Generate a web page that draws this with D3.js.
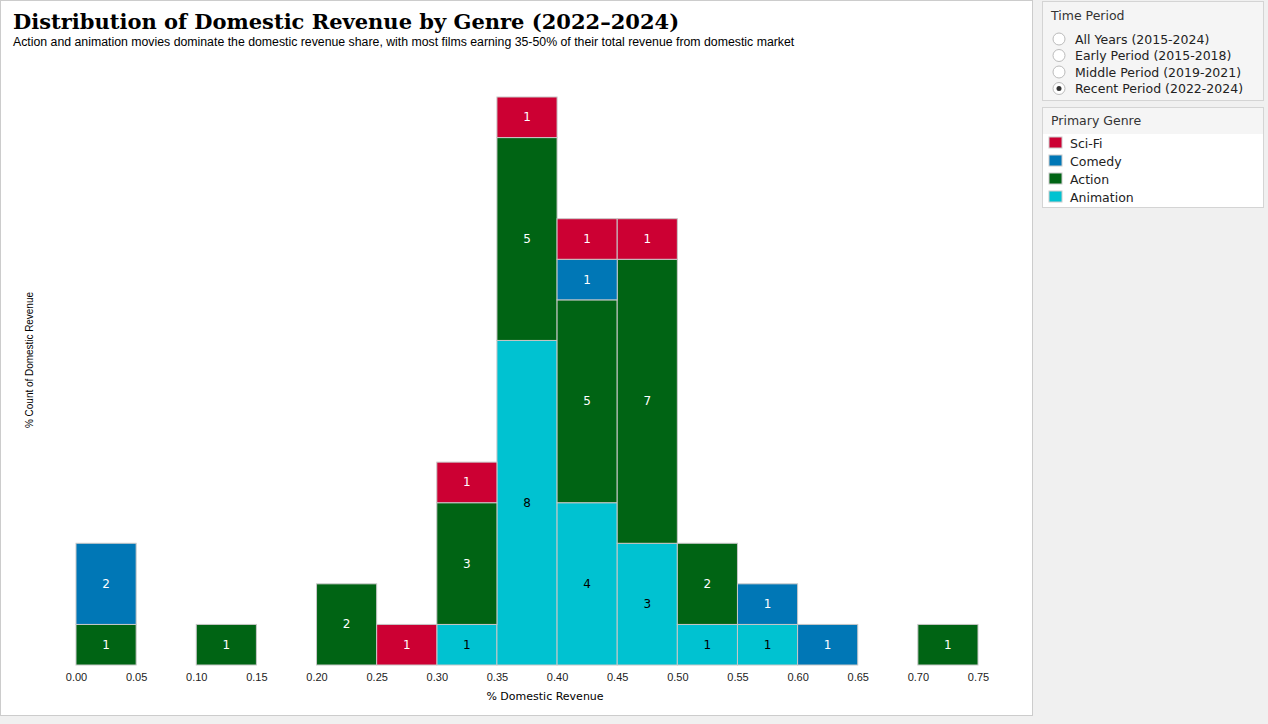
<!DOCTYPE html>
<html><head><meta charset="utf-8">
<script src="https://cdn.jsdelivr.net/npm/d3@7"></script>
<style>body{margin:0;background:#f0f0f0;font-family:Verdana,"DejaVu Sans",sans-serif}</style>
</head><body><div id="c"></div>
<script>
const W = 1268, H = 724
const genres = ['Animation', 'Action', 'Comedy', 'Sci-Fi']
const legendOrder = ['Sci-Fi', 'Comedy', 'Action', 'Animation']
const colors = { 'Sci-Fi': '#cc0033', 'Comedy': '#0077b6', 'Action': '#006414', 'Animation': '#00c2d1' }
const binStarts = [0.00, 0.10, 0.20, 0.25, 0.30, 0.35, 0.40, 0.45, 0.50, 0.55, 0.60, 0.70]
const animation = [0, 0, 0, 0, 1, 8, 4, 3, 1, 1, 0, 0]
const action    = [1, 1, 2, 0, 3, 5, 5, 7, 2, 0, 0, 1]
const comedy    = [2, 0, 0, 0, 0, 0, 1, 0, 0, 1, 1, 0]
const scifi     = [0, 0, 0, 1, 1, 1, 1, 1, 0, 0, 0, 0]
const ticks = d3.range(0, 16).map(i => i * 0.05)
const periods = ['All Years (2015-2024)', 'Early Period (2015-2018)', 'Middle Period (2019-2021)', 'Recent Period (2022-2024)']

const table = binStarts.map((b, i) => ({ bin: b, 'Animation': animation[i], 'Action': action[i], 'Comedy': comedy[i], 'Sci-Fi': scifi[i] }))
const stack = d3.stack().keys(genres)(table)

const svg = d3.select('#c').append('svg').attr('width', W).attr('height', H)
svg.append('rect').attr('x', 0.5).attr('y', 0.5).attr('width', 1032).attr('height', 715).attr('fill', '#fff').attr('stroke', '#ccc')

const x = d3.scaleLinear().domain([0, 0.75]).range([76, 978])
const y = d3.scaleLinear().domain([0, 14]).range([665, 97])

svg.append('text').attr('x', 13).attr('y', 29).attr('font-family', 'DejaVu Serif, serif').attr('font-weight', 'bold').attr('font-size', 21).text('Distribution of Domestic Revenue by Genre (2022\u20132024)')
svg.append('text').attr('x', 13).attr('y', 46).attr('font-size', 12.3).attr('font-family', 'Arial, Liberation Sans, sans-serif').text('Action and animation movies dominate the domestic revenue share, with most films earning 35-50% of their total revenue from domestic market')

const g = svg.append('g')
stack.forEach(layer => {
  layer.forEach(d => {
    if (d[1] - d[0] <= 0) return
    const x0 = x(d.data.bin), x1 = x(d.data.bin + 0.05)
    g.append('rect').attr('x', x0).attr('y', y(d[1])).attr('width', x1 - x0).attr('height', y(d[0]) - y(d[1]))
      .attr('fill', colors[layer.key]).attr('stroke', '#c8c8c8').attr('stroke-width', 1)
    g.append('text').attr('x', (x0 + x1) / 2).attr('y', (y(d[0]) + y(d[1])) / 2 + 4).attr('text-anchor', 'middle')
      .attr('font-size', 12).attr('fill', layer.key === 'Animation' ? '#000' : '#fff').text(d[1] - d[0])
  })
})

const ax = svg.append('g').attr('transform', 'translate(0,665)')
  .call(d3.axisBottom(x).tickValues(ticks).tickFormat(d3.format('.2f')).tickSize(0).tickPadding(8))
ax.select('.domain').remove()
ax.selectAll('text').attr('font-size', 11).attr('fill', '#222')
svg.append('text').attr('x', 545).attr('y', 700).attr('text-anchor', 'middle').attr('font-size', 11).text('% Domestic  Revenue')
svg.append('text').attr('transform', 'translate(33,360) rotate(-90)').attr('text-anchor', 'middle').attr('font-size', 10)
  .attr('font-family', 'Arial, Liberation Sans, sans-serif').attr('textLength', 136).text('% Count of Domestic Revenue')

// time period box
const tp = svg.append('g').attr('transform', 'translate(1042,1)')
tp.append('rect').attr('x', 0.5).attr('y', 0.5).attr('width', 221).attr('height', 99).attr('fill', '#f5f5f5').attr('stroke', '#d4d4d4')
tp.append('text').attr('x', 9).attr('y', 19).attr('font-size', 12.5).attr('fill', '#333').text('Time Period')
periods.forEach((p, i) => {
  const cy = 38 + i * 16.5
  tp.append('circle').attr('cx', 17).attr('cy', cy).attr('r', 6).attr('fill', '#fff').attr('stroke', '#bbb')
  if (i === 3) tp.append('circle').attr('cx', 17).attr('cy', cy).attr('r', 2.5).attr('fill', '#333')
  tp.append('text').attr('x', 33).attr('y', cy + 4.5).attr('font-size', 12.5).attr('fill', '#222').text(p)
})

// genre legend
const lg = svg.append('g').attr('transform', 'translate(1042,107)')
lg.append('rect').attr('x', 0.5).attr('y', 0.5).attr('width', 221).attr('height', 100).attr('fill', '#fff').attr('stroke', '#d4d4d4')
lg.append('rect').attr('x', 1).attr('y', 1).attr('width', 220).attr('height', 26).attr('fill', '#f5f5f5')
lg.append('text').attr('x', 9).attr('y', 18).attr('font-size', 12.5).attr('fill', '#333').text('Primary Genre')
legendOrder.forEach((k, i) => {
  const cy = 36 + i * 18
  lg.append('rect').attr('x', 7).attr('y', cy - 6).attr('width', 13).attr('height', 11).attr('fill', colors[k]).attr('stroke', '#ccc')
  lg.append('text').attr('x', 28).attr('y', cy + 4.5).attr('font-size', 12.5).attr('fill', '#222').text(k)
})
</script></body></html>
